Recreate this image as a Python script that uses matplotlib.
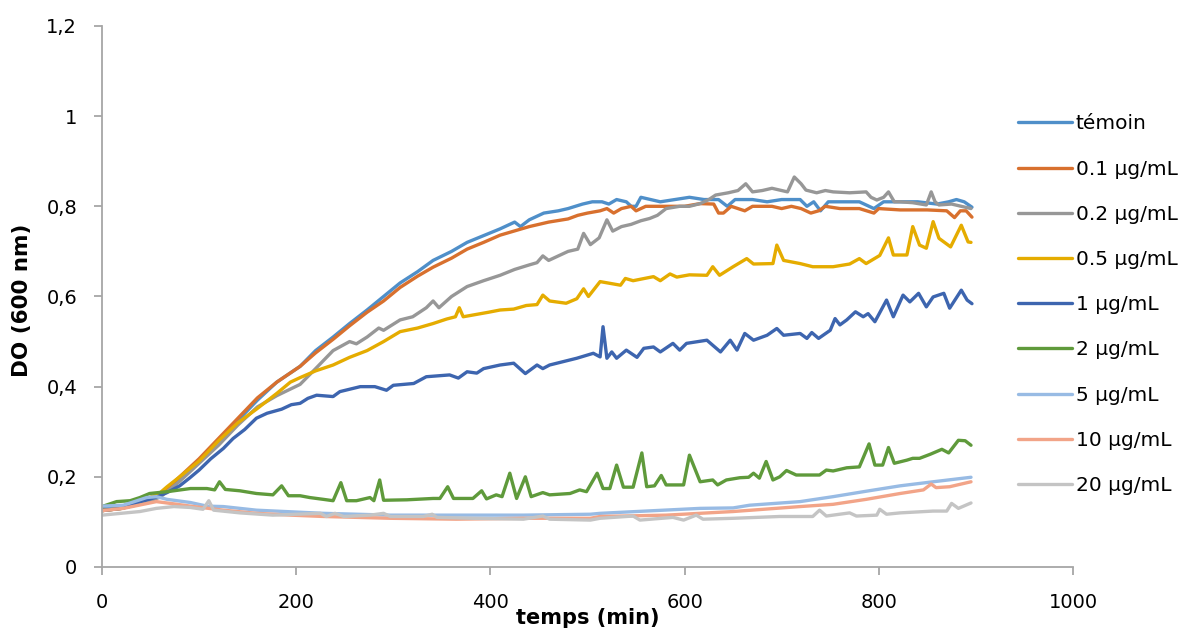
import matplotlib
matplotlib.use('Agg')
import matplotlib.pyplot as plt
from matplotlib.ticker import FuncFormatter

# growth curves, DO (600 nm) vs temps (min)
t_temoin = [0, 20, 40, 60, 80, 100, 120, 140, 160, 180, 204, 220, 238, 255, 273, 290, 307, 325, 341, 360,
            376, 393, 410, 425, 431, 440, 455, 470, 480, 495, 505, 515, 522, 530, 540, 545, 550, 555, 565,
            575, 590, 605, 620, 635, 644, 652, 670, 685, 700, 719, 726, 733, 740, 748, 765, 780, 795, 805,
            822, 840, 860, 872, 880, 888, 896]
do_temoin = [0.13, 0.135, 0.145, 0.16, 0.195, 0.235, 0.28, 0.325, 0.37, 0.41, 0.445, 0.48, 0.51, 0.54, 0.57,
             0.60, 0.63, 0.655, 0.68, 0.70, 0.72, 0.735, 0.75, 0.765, 0.755, 0.77, 0.785, 0.79, 0.795, 0.805,
             0.81, 0.81, 0.805, 0.815, 0.81, 0.80, 0.80, 0.82, 0.815, 0.81, 0.815, 0.82, 0.815, 0.815, 0.80,
             0.815, 0.815, 0.81, 0.815, 0.815, 0.80, 0.81, 0.79, 0.81, 0.81, 0.81, 0.795, 0.81, 0.81, 0.81,
             0.805, 0.81, 0.815, 0.81, 0.798]

t_01 = [0, 20, 40, 60, 80, 100, 120, 140, 160, 180, 204, 220, 238, 255, 273, 290, 307, 325, 341, 360, 376,
        393, 410, 440, 460, 480, 490, 500, 513, 520, 527, 535, 545, 550, 560, 570, 580, 600, 616, 630, 635,
        640, 648, 655, 662, 670, 690, 700, 710, 720, 730, 738, 745, 760, 780, 795, 800, 822, 850, 870, 878,
        884, 890, 896]
do_01 = [0.125, 0.13, 0.14, 0.16, 0.20, 0.24, 0.285, 0.33, 0.375, 0.41, 0.445, 0.475, 0.505, 0.535, 0.565,
         0.59, 0.62, 0.645, 0.665, 0.685, 0.705, 0.72, 0.736, 0.755, 0.765, 0.772, 0.78, 0.785, 0.79, 0.795,
         0.785, 0.795, 0.80, 0.79, 0.80, 0.80, 0.80, 0.80, 0.806, 0.805, 0.785, 0.785, 0.80, 0.795, 0.79,
         0.80, 0.80, 0.795, 0.80, 0.795, 0.785, 0.79, 0.80, 0.795, 0.795, 0.785, 0.795, 0.792, 0.792, 0.79,
         0.775, 0.79, 0.79, 0.776]

t_02 = [0, 20, 40, 60, 80, 100, 120, 140, 160, 180, 204, 220, 238, 255, 262, 273, 285, 290, 307, 320, 334,
        341, 347, 360, 376, 393, 410, 425, 440, 448, 454, 460, 470, 480, 490, 496, 503, 512, 520, 526, 535,
        545, 555, 564, 572, 581, 595, 605, 616, 625, 632, 645, 655, 663, 670, 680, 690, 700, 706, 713, 720,
        725, 736, 745, 753, 770, 787, 792, 798, 805, 810, 816, 822, 835, 849, 854, 858, 862, 875, 885, 895]
do_02 = [0.125, 0.13, 0.14, 0.155, 0.19, 0.23, 0.27, 0.315, 0.355, 0.38, 0.405, 0.44, 0.48, 0.50, 0.495,
         0.51, 0.53, 0.525, 0.548, 0.555, 0.575, 0.59, 0.575, 0.60, 0.622, 0.635, 0.647, 0.66, 0.67, 0.675,
         0.69, 0.68, 0.69, 0.70, 0.705, 0.74, 0.715, 0.73, 0.77, 0.745, 0.755, 0.76, 0.768, 0.773, 0.78,
         0.795, 0.80, 0.80, 0.806, 0.815, 0.825, 0.83, 0.835, 0.85, 0.832, 0.835, 0.84, 0.835, 0.832, 0.865,
         0.85, 0.836, 0.83, 0.835, 0.832, 0.83, 0.832, 0.82, 0.814, 0.82, 0.832, 0.81, 0.81, 0.808, 0.803,
         0.832, 0.81, 0.803, 0.805, 0.80, 0.795]

t_05 = [0, 20, 40, 60, 67, 80, 100, 120, 140, 159, 180, 194, 204, 220, 238, 255, 273, 290, 307, 325, 341,
        355, 364, 368, 372, 385, 398, 410, 424, 437, 448, 454, 461, 478, 489, 496, 501, 513, 534, 539, 547,
        568, 575, 585, 592, 605, 623, 629, 636, 650, 664, 671, 691, 695, 702, 719, 732, 753, 770, 780, 787,
        801, 810, 815, 829, 835, 842, 849, 856, 862, 874, 885, 892, 895]
do_05 = [0.125, 0.13, 0.145, 0.165, 0.178, 0.20, 0.235, 0.28, 0.32, 0.35, 0.385, 0.41, 0.42, 0.435, 0.448,
         0.465, 0.48, 0.50, 0.522, 0.53, 0.54, 0.55, 0.555, 0.575, 0.555, 0.56, 0.565, 0.57, 0.572, 0.58,
         0.582, 0.603, 0.59, 0.585, 0.595, 0.617, 0.60, 0.633, 0.625, 0.64, 0.635, 0.644, 0.635, 0.65,
         0.643, 0.648, 0.647, 0.666, 0.647, 0.666, 0.684, 0.672, 0.673, 0.714, 0.68, 0.673, 0.666, 0.666,
         0.672, 0.684, 0.673, 0.691, 0.73, 0.692, 0.692, 0.755, 0.714, 0.707, 0.766, 0.729, 0.71, 0.758,
         0.721, 0.72]

t_1 = [0, 20, 40, 56, 67, 80, 90, 100, 112, 125, 135, 147, 159, 170, 185, 195, 204, 212, 221, 238, 245, 266,
       281, 293, 300, 321, 334, 358, 367, 376, 386, 393, 410, 424, 436, 448, 454, 461, 489, 506, 513, 516,
       520, 525, 530, 540, 551, 558, 568, 575, 588, 595, 602, 623, 637, 647, 654, 662, 671, 685, 695, 702,
       719, 726, 731, 738, 750, 755, 760, 767, 776, 784, 789, 796, 808, 815, 825, 832, 841, 849, 856, 867,
       873, 885, 891, 896]
do_1 = [0.125, 0.13, 0.145, 0.155, 0.165, 0.18, 0.197, 0.215, 0.24, 0.263, 0.285, 0.305, 0.33, 0.341, 0.35,
        0.36, 0.363, 0.374, 0.381, 0.378, 0.389, 0.40, 0.40, 0.392, 0.403, 0.407, 0.422, 0.426, 0.419, 0.433,
        0.43, 0.44, 0.448, 0.452, 0.429, 0.448, 0.44, 0.448, 0.463, 0.474, 0.466, 0.533, 0.463, 0.477, 0.463,
        0.481, 0.465, 0.485, 0.488, 0.477, 0.496, 0.481, 0.496, 0.503, 0.477, 0.503, 0.481, 0.518, 0.503,
        0.514, 0.529, 0.514, 0.518, 0.507, 0.52, 0.507, 0.525, 0.551, 0.537, 0.548, 0.566, 0.555, 0.562,
        0.544, 0.592, 0.555, 0.603, 0.588, 0.607, 0.577, 0.599, 0.607, 0.574, 0.614, 0.592, 0.584]

t_2 = [0, 15, 29, 39, 49, 67, 91, 108, 116, 121, 127, 142, 159, 176, 185, 192, 204, 214, 228, 238, 246, 252,
       262, 276, 280, 286, 290, 314, 341, 348, 356, 362, 382, 391, 396, 406, 412, 420, 427, 436, 442, 454,
       461, 482, 492, 499, 510, 516, 523, 530, 537, 547, 556, 561, 569, 576, 581, 599, 605, 616, 629, 634,
       643, 657, 666, 671, 677, 684, 691, 698, 705, 715, 739, 746, 753, 767, 780, 790, 796, 804, 810, 816,
       829, 835, 842, 853, 865, 872, 882, 889, 895]
do_2 = [0.134, 0.145, 0.147, 0.154, 0.163, 0.167, 0.174, 0.174, 0.171, 0.189, 0.172, 0.169, 0.163, 0.16,
        0.18, 0.158, 0.158, 0.154, 0.15, 0.147, 0.187, 0.147, 0.147, 0.154, 0.147, 0.193, 0.148, 0.149,
        0.152, 0.152, 0.178, 0.152, 0.152, 0.169, 0.151, 0.16, 0.156, 0.208, 0.152, 0.20, 0.156, 0.165,
        0.16, 0.163, 0.171, 0.167, 0.208, 0.174, 0.174, 0.226, 0.177, 0.177, 0.253, 0.178, 0.18, 0.203,
        0.182, 0.182, 0.248, 0.189, 0.193, 0.182, 0.193, 0.198, 0.199, 0.208, 0.197, 0.234, 0.193, 0.20,
        0.214, 0.204, 0.204, 0.215, 0.213, 0.22, 0.222, 0.273, 0.226, 0.226, 0.265, 0.23, 0.237, 0.241,
        0.241, 0.25, 0.261, 0.253, 0.281, 0.28, 0.27]

t_5 = [0, 22, 46, 56, 67, 91, 108, 125, 159, 228, 297, 365, 434, 503, 513, 616, 650, 667, 719, 753, 787,
       822, 856, 895]
do_5 = [0.135, 0.137, 0.154, 0.156, 0.15, 0.143, 0.135, 0.134, 0.126, 0.119, 0.115, 0.115, 0.115, 0.117,
        0.119, 0.13, 0.131, 0.137, 0.145, 0.156, 0.168, 0.18, 0.189, 0.199]

t_10 = [0, 22, 56, 74, 91, 125, 159, 194, 228, 297, 365, 434, 503, 513, 581, 650, 719, 753, 787, 822, 846,
        854, 859, 873, 895]
do_10 = [0.125, 0.13, 0.145, 0.14, 0.135, 0.126, 0.119, 0.115, 0.112, 0.108, 0.106, 0.108, 0.108, 0.112,
         0.115, 0.123, 0.134, 0.139, 0.15, 0.163, 0.171, 0.184, 0.176, 0.178, 0.189]

t_20 = [0, 39, 56, 74, 91, 104, 110, 115, 142, 176, 225, 231, 240, 249, 276, 290, 297, 331, 340, 345, 382,
        434, 454, 461, 503, 513, 547, 554, 588, 599, 612, 619, 650, 698, 732, 739, 746, 770, 777, 798, 801,
        808, 822, 856, 870, 875, 882, 895]
do_20 = [0.115, 0.123, 0.13, 0.134, 0.132, 0.128, 0.147, 0.126, 0.12, 0.115, 0.119, 0.112, 0.119, 0.112,
         0.115, 0.119, 0.112, 0.112, 0.117, 0.11, 0.108, 0.106, 0.113, 0.106, 0.104, 0.108, 0.113, 0.104,
         0.11, 0.104, 0.115, 0.106, 0.108, 0.112, 0.112, 0.126, 0.113, 0.12, 0.113, 0.115, 0.128, 0.117,
         0.12, 0.124, 0.124, 0.141, 0.13, 0.142]

labels = ['témoin', '0.1 µg/mL', '0.2 µg/mL', '0.5 µg/mL', '1 µg/mL', '2 µg/mL', '5 µg/mL', '10 µg/mL',
          '20 µg/mL']
series = [(t_temoin, do_temoin), (t_01, do_01), (t_02, do_02), (t_05, do_05), (t_1, do_1), (t_2, do_2),
          (t_5, do_5), (t_10, do_10), (t_20, do_20)]
colors = ['#4f8fc9', '#d8702e', '#979797', '#e5ac00', '#3d65af', '#5f9a3b', '#98bbe4', '#f2a488', '#c4c4c4']

plt.rcParams['font.family'] = ['DejaVu Sans']

fig = plt.figure(figsize=(11.89, 6.29), dpi=100)
ax = fig.add_axes([0.0858, 0.0986, 0.8166, 0.8601])

for (t, y), lab, c in zip(series, labels, colors):
    ax.plot(t, y, color=c, lw=2.4, label=lab, solid_joinstyle='round', solid_capstyle='round')

ax.set_xlim(0, 1000)
ax.set_ylim(0, 1.2)
ax.set_xticks([0, 200, 400, 600, 800, 1000])
ax.set_yticks([0, 0.2, 0.4, 0.6, 0.8, 1.0, 1.2])
ax.yaxis.set_major_formatter(FuncFormatter(lambda v, p: ('%g' % round(v, 1)).replace('.', ',')))

for s in ['top', 'right']:
    ax.spines[s].set_visible(False)
for s in ['left', 'bottom']:
    ax.spines[s].set_color('#a6a6a6')
    ax.spines[s].set_linewidth(1.3)
ax.tick_params(axis='both', colors='#a6a6a6', length=6, width=1.3, labelsize=14, labelcolor='black')
ax.tick_params(axis='y', pad=12)
ax.tick_params(axis='x', pad=13)

ax.set_xlabel('temps (min)', fontsize=15, fontweight='bold')
ax.xaxis.set_label_coords(0.5, -(618 - 567) / 541.0)
ax.xaxis.label.set_va('center')
ax.set_ylabel('DO (600 nm)', fontsize=15.5, fontweight='bold')
ax.yaxis.set_label_coords(-0.0824, 0.4935)
ax.yaxis.label.set_va('center')

ax.legend(loc='upper left', bbox_to_anchor=(0.856, 0.818), bbox_transform=fig.transFigure,
          frameon=False, fontsize=14.5, handlelength=2.69, handletextpad=0.2, labelspacing=1.3,
          borderpad=0, borderaxespad=0)

plt.savefig('out.png', dpi=100)
